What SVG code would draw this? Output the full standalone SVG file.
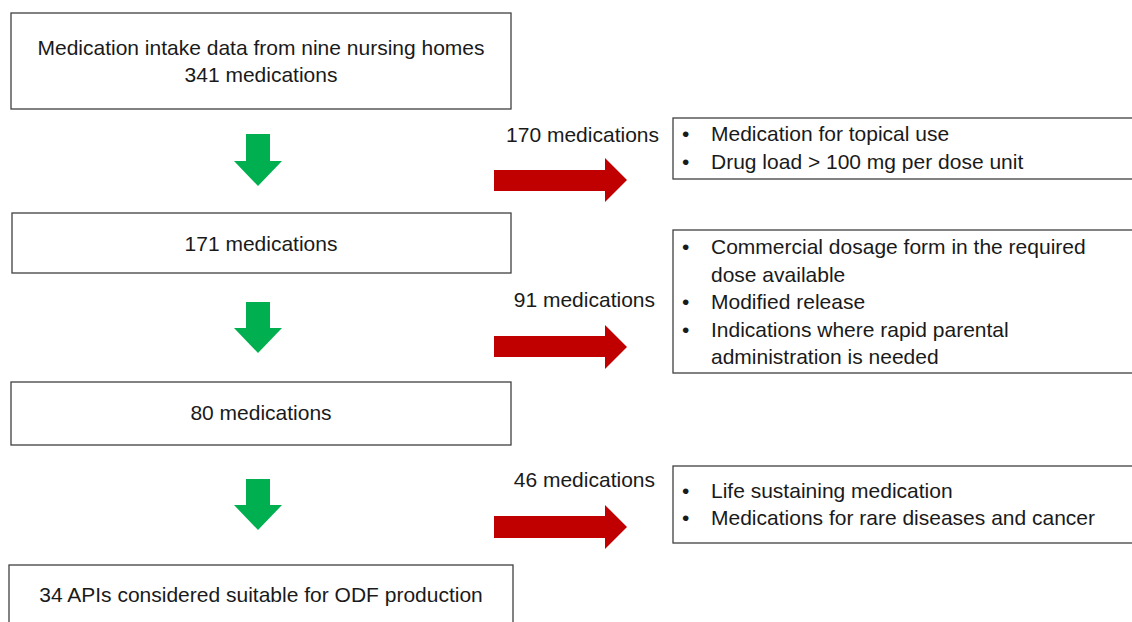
<svg xmlns="http://www.w3.org/2000/svg" width="1132" height="622" viewBox="0 0 1132 622">
<style>
.box{fill:#fff;stroke:#404040;stroke-width:1.3}
.t{font-family:"Liberation Sans",Arial,sans-serif;font-size:21px;fill:#1a1a1a}
.c{text-anchor:middle}
.r{text-anchor:end}
.g{fill:#00b050}
.red{fill:#c00000}
</style>
<rect width="1132" height="622" fill="#fff"/>
<g id="n1"><rect class="box" x="11" y="13" width="500" height="96"/>
<text class="t c" x="261" y="55">Medication intake data from nine nursing homes</text>
<text class="t c" x="261" y="82">341 medications</text></g>
<g id="n2"><rect class="box" x="12" y="213" width="499" height="60"/>
<text class="t c" x="261" y="251">171 medications</text></g>
<g id="n3"><rect class="box" x="11" y="382" width="500" height="63"/>
<text class="t c" x="261" y="420">80 medications</text></g>
<g id="n4"><rect class="box" x="9" y="565" width="504" height="70"/>
<text class="t c" x="261" y="602">34 APIs considered suitable for ODF production</text></g>
<g id="e1"><rect class="box" x="673" y="118" width="470" height="61"/>
<text class="t" x="682" y="141">•</text><text class="t" x="711" y="141">Medication for topical use</text>
<text class="t" x="682" y="169">•</text><text class="t" x="711" y="169">Drug load &gt; 100 mg per dose unit</text></g>
<g id="e2"><rect class="box" x="673" y="230" width="470" height="143"/>
<text class="t" x="682" y="254">•</text><text class="t" x="711" y="254">Commercial dosage form in the required</text>
<text class="t" x="711" y="282">dose available</text>
<text class="t" x="682" y="309">•</text><text class="t" x="711" y="309">Modified release</text>
<text class="t" x="682" y="337">•</text><text class="t" x="711" y="337">Indications where rapid parental</text>
<text class="t" x="711" y="364">administration is needed</text></g>
<g id="e3"><rect class="box" x="673" y="466" width="470" height="77"/>
<text class="t" x="682" y="498">•</text><text class="t" x="711" y="498">Life sustaining medication</text>
<text class="t" x="682" y="525">•</text><text class="t" x="711" y="525">Medications for rare diseases and cancer</text></g>
<g id="connectors">
<polygon class="g" points="246,134 270,134 270,161 282,161 258,186 234,161 246,161"/>
<polygon class="g" points="246,302 270,302 270,328 282,328 258,353 234,328 246,328"/>
<polygon class="g" points="246,479 270,479 270,505 282,505 258,530 234,505 246,505"/>
<polygon class="red" points="494,170 605,170 605,158 627,180 605,202 605,191 494,191"/>
<polygon class="red" points="494,336 605,336 605,325 627,347 605,369 605,357 494,357"/>
<polygon class="red" points="494,516 605,516 605,505 627,527 605,549 605,538 494,538"/>
<text class="t r" x="659" y="142">170 medications</text>
<text class="t r" x="655" y="307">91 medications</text>
<text class="t r" x="655" y="487">46 medications</text>
</g>
</svg>
